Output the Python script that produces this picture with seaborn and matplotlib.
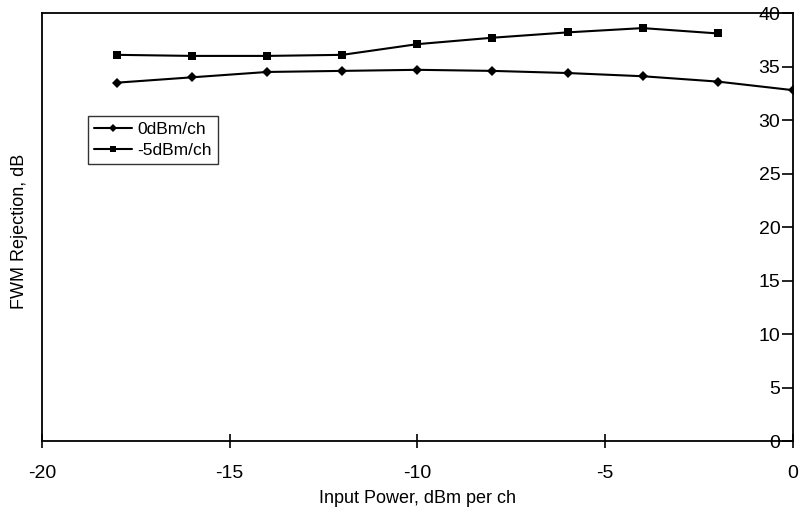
import matplotlib
matplotlib.use("Agg")
import matplotlib.pyplot as plt
import seaborn as sns
import pandas as pd

x_0dbm = [-18, -16, -14, -12, -10, -8, -6, -4, -2, 0]
y_0dbm = [33.5, 34.0, 34.5, 34.6, 34.7, 34.6, 34.4, 34.1, 33.6, 32.8]
x_m5dbm = [-18, -16, -14, -12, -10, -8, -6, -4, -2]
y_m5dbm = [36.1, 36.0, 36.0, 36.1, 37.1, 37.7, 38.2, 38.6, 38.1]
series_names = ["0dBm/ch", "-5dBm/ch"]
x_ticks = [-20, -15, -10, -5, 0]
y_ticks = [0, 5, 10, 15, 20, 25, 30, 35, 40]

df = pd.concat([
    pd.DataFrame({"x": x_0dbm, "y": y_0dbm, "series": series_names[0]}),
    pd.DataFrame({"x": x_m5dbm, "y": y_m5dbm, "series": series_names[1]}),
])

sns.set_theme(style="white")
plt.rcParams["font.family"] = ["Liberation Sans", "DejaVu Sans"]
plt.rcParams["axes.unicode_minus"] = False
plt.rcParams["text.color"] = "black"
plt.rcParams["axes.labelcolor"] = "black"

fig = plt.figure(figsize=(8, 5.25), dpi=100)
ax = fig.add_axes([0.0525, 0.16, 0.9385, 0.815])

sns.lineplot(data=df, x="x", y="y", hue="series", style="series",
             palette=["black", "black"], markers={"0dBm/ch": "D", "-5dBm/ch": "s"},
             dashes=False, linewidth=1.5, markersize=5.5, markeredgewidth=0,
             ax=ax, sort=False)

ax.set_xlim(-20, 0)
ax.set_ylim(0, 40)
ax.set_xticks(x_ticks)
ax.set_yticks(y_ticks)

# y axis drawn at x = 0 (right edge), box line at x = -20
ax.spines["left"].set_position(("data", 0))
ax.spines["right"].set_position(("data", -20))
for s in ax.spines.values():
    s.set_color("black")
    s.set_linewidth(1.3)
ax.tick_params(axis="y", direction="out", length=8, width=1.2, colors="black",
               labelsize=14, pad=1, left=True, right=False)
ax.tick_params(axis="x", direction="inout", length=10, width=1.2, colors="black",
               labelsize=14, pad=12, bottom=True)

ax.set_xlabel("Input Power, dBm per ch", fontsize=13, labelpad=6)
ax.set_ylabel("FWM Rejection, dB", fontsize=13)
ax.yaxis.set_label_coords(-0.018, 0.49)

leg = ax.legend(loc="upper left", bbox_to_anchor=(0.061, 0.76), frameon=True,
                fancybox=False, edgecolor="black", fontsize=12.5, handlelength=2.2,
                borderpad=0.35, labelspacing=0.35, handletextpad=0.3, borderaxespad=0,
                markerscale=0.8)
leg.get_frame().set_linewidth(1.0)

fig.savefig("out.png", dpi=100, facecolor="white")
